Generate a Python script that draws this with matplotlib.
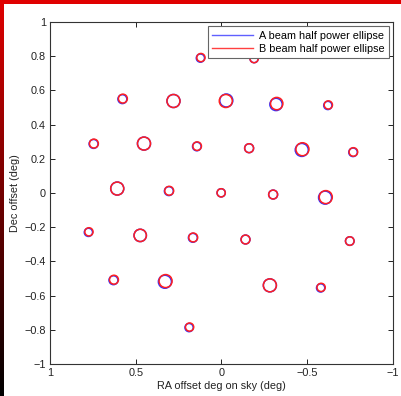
import numpy as np
import matplotlib
matplotlib.use("Agg")
import matplotlib.pyplot as plt
from matplotlib.patches import Ellipse, Rectangle
from matplotlib.lines import Line2D
from matplotlib.colors import LinearSegmentedColormap

plt.rcParams['font.family'] = ['Liberation Sans', 'DejaVu Sans']

# B beam ellipse centres (deg) and radii
ra_b = [0.120, -0.190, 0.575, 0.280, -0.025, -0.322, -0.623,
        0.744, 0.452, 0.142, -0.161, -0.472, -0.769,
        0.608, 0.305, 0.002, -0.301, -0.608,
        0.773, 0.474, 0.165, -0.140, -0.748,
        0.627, 0.326, -0.282, -0.581, 0.186]
dec_b = [0.792, 0.786, 0.552, 0.538, 0.538, 0.523, 0.515,
         0.289, 0.289, 0.274, 0.262, 0.256, 0.240,
         0.026, 0.013, 0.001, -0.009, -0.024,
         -0.227, -0.248, -0.260, -0.272, -0.281,
         -0.507, -0.515, -0.540, -0.552, -0.784]
rad_b = [0.024, 0.024, 0.026, 0.038, 0.038, 0.036, 0.024,
         0.026, 0.038, 0.025, 0.026, 0.038, 0.025,
         0.038, 0.026, 0.024, 0.026, 0.038,
         0.024, 0.036, 0.026, 0.026, 0.025,
         0.026, 0.038, 0.038, 0.024, 0.024]
# A beam ellipse centres (slightly offset from B)
ra_a = [0.123, -0.190, 0.578, 0.280, -0.028, -0.318, -0.620,
        0.746, 0.452, 0.144, -0.161, -0.468, -0.767,
        0.608, 0.307, 0.002, -0.301, -0.604,
        0.776, 0.474, 0.167, -0.140, -0.748,
        0.630, 0.330, -0.282, -0.578, 0.189]
dec_a = [0.789, 0.786, 0.549, 0.538, 0.541, 0.518, 0.512,
         0.287, 0.289, 0.272, 0.262, 0.252, 0.238,
         0.026, 0.011, 0.001, -0.009, -0.027,
         -0.230, -0.248, -0.262, -0.272, -0.281,
         -0.510, -0.519, -0.540, -0.555, -0.787]

xticks = [1, 0.5, 0, -0.5, -1]
xticklabels = ['1', '0.5', '0', '\u22120.5', '\u22121']
yticks = [-1, -0.8, -0.6, -0.4, -0.2, 0, 0.2, 0.4, 0.6, 0.8, 1]
yticklabels = ['\u22121', '\u22120.8', '\u22120.6', '\u22120.4', '\u22120.2', '0',
               '0.2', '0.4', '0.6', '0.8', '1']

W, H = 402, 396
fig = plt.figure(figsize=(W / 100, H / 100), dpi=100)
fig.patch.set_facecolor('white')

# decorative border: top red bar, left gradient red->black
fig.patches.append(Rectangle((0, 1 - 4 / H), 1, 4 / H, transform=fig.transFigure,
                             facecolor='#e00000', edgecolor='none', zorder=0))
bax = fig.add_axes([0, 0, 4 / W, 1])
grad = np.linspace(0, 1, 256).reshape(-1, 1)
cm = LinearSegmentedColormap.from_list('rb', ['#e00000', '#000000'])
bax.imshow(grad, aspect='auto', cmap=cm, origin='upper', vmin=0, vmax=1)
bax.axis('off')

ax = fig.add_axes([50 / W, 1 - 364 / H, 343 / W, 342 / H])
for x, y, r in zip(ra_a, dec_a, rad_b):
    ax.add_patch(Ellipse((x, y), 2 * r, 2 * r, fill=False, edgecolor='#3030ff', lw=1.1))
for x, y, r in zip(ra_b, dec_b, rad_b):
    ax.add_patch(Ellipse((x, y), 2 * r, 2 * r, fill=False, edgecolor='#ff2020', lw=1.1))

ax.set_xlim(1, -1)
ax.set_ylim(-1, 1)
ax.set_xticks(xticks)
ax.set_xticklabels(xticklabels)
ax.set_yticks(yticks)
ax.set_yticklabels(yticklabels)
ax.tick_params(direction='in', top=True, right=True, length=3.5, width=0.7,
               labelsize=7.8, colors='#222222', pad=3)
for s in ax.spines.values():
    s.set_linewidth(0.8)
    s.set_color('#333333')
ax.set_xlabel('RA offset deg on sky (deg)', fontsize=7.8, color='#222222', labelpad=2)
ax.set_ylabel('Dec offset (deg)', fontsize=7.8, color='#222222', labelpad=3)

handles = [Line2D([], [], color='#6060ff', lw=1.0), Line2D([], [], color='#ff4040', lw=1.0)]
leg = ax.legend(handles, ['A beam half power ellipse', 'B beam half power ellipse'],
                loc='upper right', fontsize=7.8, handlelength=3.8, fancybox=False,
                framealpha=1, edgecolor='#666666', borderpad=0.4, labelspacing=0.3,
                borderaxespad=0.4, handletextpad=0.5)
leg.get_frame().set_linewidth(0.8)

fig.savefig('out.png', dpi=100)
